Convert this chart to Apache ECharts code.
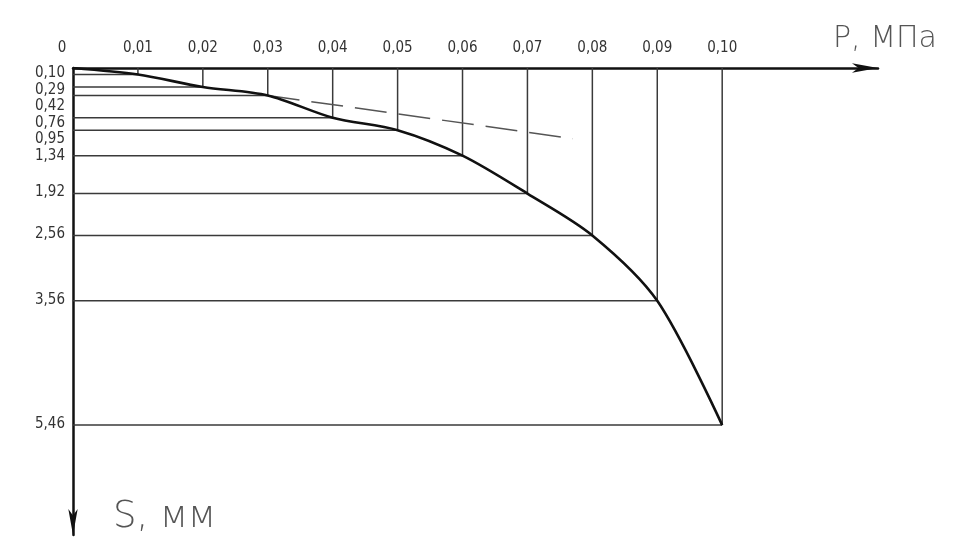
<!DOCTYPE html>
<html>
<head>
<meta charset="utf-8">
<script src="https://cdn.jsdelivr.net/npm/echarts@6/dist/echarts.min.js"></script>
<style>
html,body{margin:0;padding:0;background:#fff;}
#chart{width:966px;height:555px;}
</style>
</head>
<body>
<div id="chart"></div>
<script>
// Data
const pressure   = [0, 0.01, 0.02, 0.03, 0.04, 0.05, 0.06, 0.07, 0.08, 0.09, 0.10];
const settlement = [0, 0.10, 0.29, 0.42, 0.76, 0.95, 1.34, 1.92, 2.56, 3.56, 5.46];
const xTickLabels = ['0', '0,01', '0,02', '0,03', '0,04', '0,05', '0,06', '0,07', '0,08', '0,09', '0,10'];
const yTickLabels = ['0,10', '0,29', '0,42', '0,76', '0,95', '1,34', '1,92', '2,56', '3,56', '5,46'];
const dashedP = [0.03, 0.077];
const dashedS = [0.42, 1.08];
const xTitle = 'P, МПа';
const yTitle = 'S, мм';

const FONT = '"DejaVu Sans Condensed", "DejaVu Sans", sans-serif';
const curve = pressure.map((p, i) => [p, settlement[i]]);
const guides = curve.filter(d => d[0] > 0);
const dashed = dashedP.map((p, i) => [p, dashedS[i]]);

const chart = echarts.init(document.getElementById('chart'), null, {renderer: 'canvas'});
const option = {
  animation: false,
  backgroundColor: '#fff',
  grid: {left: 73, top: 68, right: 88, bottom: 20, containLabel: false},
  xAxis: {
    type: 'value', position: 'top', min: 0, max: 0.124,
    axisLine: {show: true, onZero: false, symbol: ['none', 'arrow'], symbolSize: [7, 26],
      lineStyle: {color: '#111', width: 2.5}},
    axisTick: {show: false},
    splitLine: {show: false},
    axisLabel: {
      customValues: pressure,
      margin: 12,
      color: '#333',
      fontFamily: FONT,
      fontSize: 15,
      formatter: function (v) {
        const i = pressure.findIndex(p => Math.abs(p - v) < 1e-9);
        const t = i >= 0 ? xTickLabels[i] : '';
        return i === 0 ? '{z|' + t + '}' : t;
      },
      rich: {z: {padding: [0, 22, 0, 0], fontFamily: FONT, fontSize: 15, color: '#333'}}
    }
  },
  yAxis: {
    type: 'value', inverse: true, min: 0, max: 7.14,
    axisLine: {show: true, onZero: false, symbol: ['arrow', 'none'], symbolSize: [7, 26],
      lineStyle: {color: '#111', width: 2.5}},
    axisTick: {show: false},
    splitLine: {show: false},
    axisLabel: {show: false}
  },
  series: [
    {
      type: 'custom', name: 'guides', z: 1, silent: true,
      data: guides,
      renderItem: function (params, api) {
        const p = api.value(0), s = api.value(1);
        const pt = api.coord([p, s]);
        const top = api.coord([p, 0]);
        const left = api.coord([0, s]);
        const st = {stroke: '#3a3a3a', lineWidth: 1.5};
        return {type: 'group', children: [
          {type: 'line', shape: {x1: top[0], y1: top[1], x2: pt[0], y2: pt[1]}, style: st},
          {type: 'line', shape: {x1: left[0], y1: left[1], x2: pt[0], y2: pt[1]}, style: st}
        ]};
      }
    },
    {
      type: 'line', name: 'dashed', z: 2, silent: true,
      data: dashed, symbol: 'none',
      lineStyle: {color: '#555', width: 1.5, type: [32, 12]}
    },
    {
      type: 'line', name: 'curve', z: 3, silent: true,
      data: curve, symbol: 'none', smooth: 0.3,
      lineStyle: {color: '#111', width: 2.6}
    }
  ]
};
chart.setOption(option);

// Y tick labels: placed at each value through the axis scale, pushed apart so they do not overlap
const gap = 16.5;
let last = -Infinity;
const yLabelGraphics = [];
const xLeft = chart.convertToPixel({xAxisIndex: 0}, 0);
settlement.slice(1).forEach((s, i) => {
  let y = chart.convertToPixel({yAxisIndex: 0}, s) - 1;
  if (y < last + gap) y = last + gap;
  last = y;
  yLabelGraphics.push({
    type: 'text', silent: true,
    style: {text: yTickLabels[i], x: xLeft - 8, y: y, align: 'right', verticalAlign: 'middle',
      font: '15px ' + FONT, fill: '#333'}
  });
});

chart.setOption({
  graphic: yLabelGraphics.concat([
    {type: 'text', silent: true, left: 833, top: 24,
      style: {text: xTitle, font: '200 30px "DejaVu Sans", sans-serif', fill: '#555'}},
    {type: 'text', silent: true, left: 113, top: 499,
      style: {text: yTitle, font: '200 37px "DejaVu Sans", sans-serif', fill: '#555'}}
  ])
});
</script>
</body>
</html>
